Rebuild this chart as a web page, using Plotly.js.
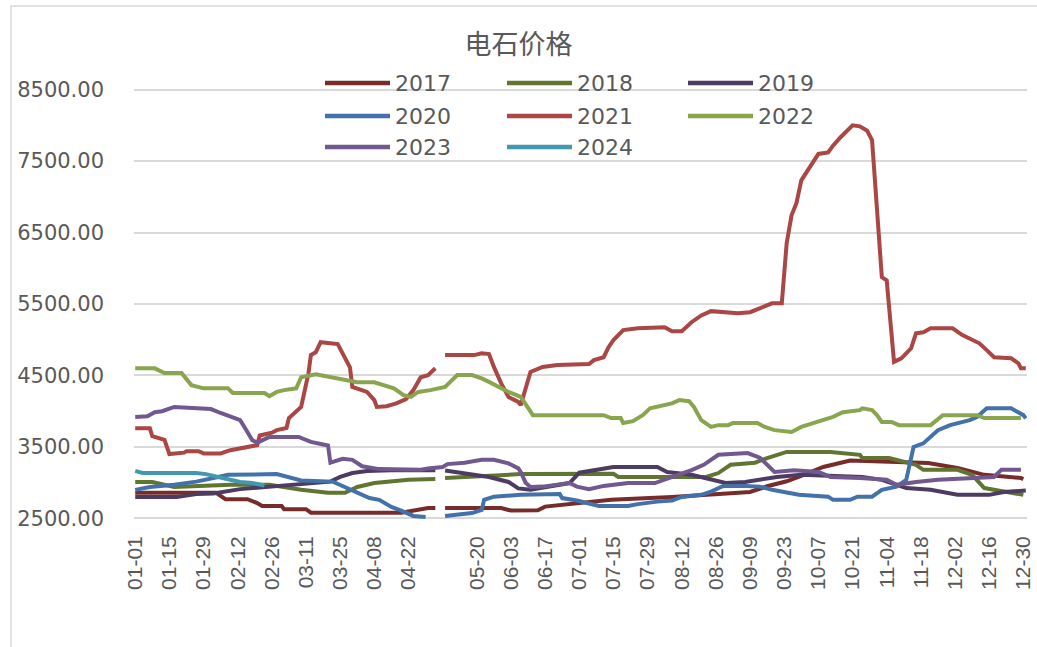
<!DOCTYPE html>
<html>
<head>
<meta charset="utf-8">
<script src="https://cdn.plot.ly/plotly-3.0.1.min.js"></script>
<style>
  body { margin: 0; background: #fff; }
  #chart { width: 1037px; height: 647px; }
</style>
</head>
<body>
<div id="chart"></div>
<script>
var years = ['2017', '2018', '2019', '2020', '2021', '2022', '2023', '2024'];
var colors = ['#772C2A', '#5F7530', '#4D3B62', '#4372AA', '#AA4643', '#89A54E', '#71588F', '#4198AF'];

// dates are MM-DD, values in yuan/ton; null = no quotes (May Day break)
var d2017 = ['01-01','02-03','02-07','02-16','02-20','02-22','03-01','03-02','03-11','03-13',
  '04-19','04-24','04-30','05-03','05-05','05-07','05-30','06-03','06-14','06-17',
  '06-27','07-14','08-08','08-24','09-09','09-16','09-24','10-01','10-09','10-20',
  '11-21','12-03','12-14','12-29','12-30'];
var v2017 = [2860,2860,2770,2770,2715,2675,2675,2630,2630,2580,
  2580,2610,2645,2645,null,2645,2645,2610,2615,2665,
  2700,2760,2800,2830,2870,2950,3020,3110,3220,3310,
  3275,3205,3110,3065,3050];

var d2018 = ['01-01','01-08','01-17','01-26','02-09','02-25','03-04','03-09','03-20','03-27',
  '04-01','04-08','04-22','05-03','05-05','05-07','05-18','05-30','06-07','07-15',
  '07-17','08-22','08-27','09-01','09-11','09-16','09-24','10-12','10-24','10-25',
  '11-05','11-16','11-19','12-03','12-09','12-14','12-26','12-30'];
var v2018 = [3010,3010,2940,2955,2970,2970,2930,2900,2860,2860,
  2940,2995,3040,3050,null,3065,3080,3110,3120,3125,
  3080,3080,3135,3250,3280,3345,3430,3430,3390,3345,
  3345,3250,3180,3180,3110,2925,2855,2830];

var d2019 = ['01-01','01-18','01-26','02-02','02-13','02-25','03-21','03-25','03-30','04-05',
  '04-15','05-03','05-05','05-07','05-18','05-25','06-02','06-06','06-11','06-27',
  '07-01','07-09','07-15','08-02','08-06','08-16','08-22','08-30','09-07','09-15',
  '09-20','09-30','10-25','11-02','11-12','11-22','12-03','12-16','12-22','12-31'];
var v2019 = [2800,2800,2840,2850,2910,2945,3015,3080,3135,3165,
  3175,3175,null,3170,3110,3080,3010,2920,2900,2995,
  3140,3180,3220,3220,3150,3110,3065,2995,3010,3050,
  3080,3110,3080,3040,2925,2900,2830,2830,2870,2890];

var d2020 = ['01-01','01-07','01-17','01-26','02-04','02-08','02-28','03-03','03-09','03-22',
  '03-28','04-06','04-10','04-15','04-19','04-24','04-29','05-03','05-07','05-18',
  '05-22','05-23','05-27','06-07','06-23','06-24','06-30','07-09','07-21','07-25',
  '08-02','08-08','08-12','08-20','08-24','08-29','09-07','09-13','09-18','09-29',
  '10-11','10-13','10-20','10-23','10-29','11-02','11-08','11-12','11-15','11-19',
  '11-25','11-30','12-08','12-11','12-15','12-25','12-30','12-31'];
var v2020 = [2900,2940,2970,3015,3080,3110,3120,3080,3030,3015,
  2925,2785,2760,2660,2610,2535,2520,null,2535,2575,
  2620,2760,2805,2830,2840,2785,2750,2675,2675,2700,
  2735,2750,2800,2830,2875,2955,2955,2945,2900,2830,
  2805,2760,2760,2805,2805,2900,2945,3040,3500,3550,
  3735,3805,3875,3920,4040,4040,3945,3900];

var d2021 = ['01-01','01-07','01-08','01-13','01-15','01-21','01-22','01-27','01-29','02-05',
  '02-09','02-20','02-21','02-26','02-28','03-03','03-04','03-06','03-09','03-12',
  '03-13','03-15','03-17','03-24','03-26','03-29','03-30','04-05','04-08','04-09',
  '04-13','04-17','04-21','04-24','04-27','04-30','05-03','05-05','05-07','05-19',
  '05-22','05-25','05-27','05-30','06-02','06-06','06-07','06-09','06-11','06-16',
  '06-22','07-05','07-07','07-11','07-13','07-15','07-19','07-25','08-05','08-08',
  '08-12','08-16','08-20','08-24','08-29','09-04','09-09','09-13','09-18','09-22',
  '09-23','09-24','09-26','09-28','09-30','10-07','10-11','10-13','10-16','10-19',
  '10-21','10-24','10-27','10-29','11-01','11-02','11-04','11-07','11-10','11-14',
  '11-16','11-19','11-22','12-01','12-05','12-08','12-12','12-15','12-18','12-25',
  '12-28','12-29','12-31'];
var v2021 = [3760,3760,3650,3600,3400,3420,3440,3440,3410,3410,
  3455,3525,3660,3700,3735,3765,3905,3975,4060,4530,
  4785,4825,4965,4940,4810,4615,4340,4270,4155,4060,
  4070,4110,4170,4295,4475,4505,4600,null,4785,4785,
  4810,4800,4620,4390,4200,4130,4085,4295,4550,4620,
  4645,4660,4715,4755,4895,4995,5135,5160,5175,5120,
  5120,5245,5340,5400,5385,5370,5385,5440,5510,5510,
  5970,6350,6740,6910,7230,7600,7620,7715,7830,7925,
  8000,7985,7925,7790,6435,5875,5830,4690,4740,4880,
  5090,5105,5160,5160,5065,5020,4950,4855,4755,4740,
  4670,4600,4600];

var d2022 = ['01-01','01-09','01-13','01-20','01-24','01-29','02-08','02-10','02-23','02-25',
  '02-28','03-02','03-07','03-09','03-15','03-21','03-26','04-01','04-08','04-12',
  '04-16','04-20','04-23','04-26','05-01','05-07','05-12','05-18','05-22','05-25',
  '05-29','06-02','06-07','06-12','07-11','07-14','07-18','07-19','07-23','07-27',
  '07-30','08-08','08-11','08-15','08-17','08-20','08-24','08-27','08-31','09-02',
  '09-12','09-15','09-19','09-26','09-30','10-09','10-13','10-17','10-24','10-25',
  '10-29','10-31','11-02','11-06','11-09','11-22','11-27','12-11','12-14','12-29'];
var v2022 = [4600,4600,4535,4535,4365,4320,4320,4255,4255,4210,
  4270,4295,4320,4475,4515,4475,4450,4405,4405,4365,
  4320,4225,4200,4270,4295,4340,4505,4505,4460,4410,
  4340,4270,4200,3945,3945,3905,3905,3835,3860,3945,
  4040,4110,4155,4140,4060,3875,3780,3805,3805,3835,
  3835,3780,3735,3710,3780,3875,3920,3985,4015,4040,
  4015,3945,3850,3850,3805,3805,3945,3945,3905,3905];

var d2023 = ['01-01','01-06','01-09','01-12','01-17','02-01','02-05','02-09','02-13','02-15',
  '02-18','02-20','02-25','03-08','03-13','03-20','03-21','03-26','03-30','04-03',
  '04-10','04-27','04-30','05-06','05-08','05-15','05-22','05-27','06-02','06-06',
  '06-07','06-09','06-11','06-16','06-27','06-30','07-05','07-11','07-21','08-01',
  '08-05','08-11','08-16','08-21','08-27','09-08','09-13','09-19','09-27','10-07',
  '10-12','10-24','11-04','11-08','11-16','11-25','12-18','12-21','12-29'];
var v2023 = [3920,3930,3985,4000,4060,4030,3975,3920,3875,3765,
  3595,3560,3640,3640,3570,3520,3280,3335,3320,3230,
  3190,3180,3200,3220,3260,3280,3320,3320,3270,3200,
  3150,3000,2940,2945,2995,2945,2910,2955,2995,2995,
  3040,3110,3175,3250,3390,3415,3350,3150,3175,3150,
  3080,3065,3040,2970,3010,3040,3080,3180,3180];

var d2024 = ['01-01','01-04','01-26','01-30','02-04','02-09','02-13','02-18','02-23'];
var v2024 = [3165,3135,3135,3120,3080,3040,3010,2995,2960];

var tickDays = ['01-01','01-15','01-29','02-12','02-26','03-11','03-25','04-08','04-22',
  '05-20','06-03','06-17','07-01','07-15','07-29','08-12','08-26','09-09','09-23',
  '10-07','10-21','11-04','11-18','12-02','12-16','12-30'];

var dates = [d2017, d2018, d2019, d2020, d2021, d2022, d2023, d2024];
var values = [v2017, v2018, v2019, v2020, v2021, v2022, v2023, v2024];

// all years share one leap-year calendar (03-11 tick => 29 Feb exists)
function toDate(md) { return '2024-' + md; }

var grey = '#595959';
var M = {l: 134, r: 10, t: 86, b: 125};
var W = 1037 - M.l - M.r, H = 647 - M.t - M.b;
function px(x) { return (x - M.l) / W; }
function py(y) { return (647 - M.b - y) / H; }

var traces = years.map(function (yr, i) {
  return {
    x: dates[i].map(toDate),
    y: values[i],
    name: yr,
    type: 'scatter',
    mode: 'lines',
    line: {color: colors[i], width: 4},
    showlegend: false,
    hovertemplate: '%{x|%m-%d}: %{y:.2f}<extra>' + yr + '</extra>'
  };
});

// legend drawn by hand: 3 columns, long line samples like the excel original
var legCols = [325, 507, 688];
var legRows = [83, 116, 147];
var shapes = [{
  type: 'rect', xref: 'paper', yref: 'paper', layer: 'below',
  x0: px(11), x1: px(1100), y0: py(700), y1: py(6),
  line: {color: '#d9d9d9', width: 1.5}
}];
var annotations = [];
years.forEach(function (yr, i) {
  var cx = legCols[i % 3], ry = legRows[Math.floor(i / 3)];
  shapes.push({
    type: 'line', xref: 'paper', yref: 'paper',
    x0: px(cx), x1: px(cx + 65), y0: py(ry), y1: py(ry),
    line: {color: colors[i], width: 4.5}
  });
  annotations.push({
    xref: 'paper', yref: 'paper', x: px(cx + 68), y: py(ry),
    xanchor: 'left', yanchor: 'middle', showarrow: false, text: yr,
    font: {family: 'DejaVu Sans', size: 22, color: grey}
  });
});

var layout = {
  width: 1037,
  height: 647,
  margin: M,
  paper_bgcolor: '#fff',
  plot_bgcolor: '#fff',
  title: {
    text: '电石价格',
    x: 0.5, xref: 'container', xanchor: 'center',
    y: 1 - 45 / 647, yref: 'container', yanchor: 'middle',
    font: {family: 'Noto Sans CJK SC, sans-serif', size: 27, color: grey}
  },
  xaxis: {
    type: 'date',
    range: ['2023-12-31 12:00', '2024-12-31 12:00'],
    tickmode: 'array',
    tickvals: tickDays.map(toDate),
    ticktext: tickDays,
    tickangle: -90,
    ticks: '',
    ticklabelstandoff: 9,
    showgrid: false,
    zeroline: false,
    showline: false,
    tickfont: {family: 'Liberation Sans', size: 21, color: grey}
  },
  yaxis: {
    range: [2450, 8550],
    tickmode: 'linear',
    tick0: 2500,
    dtick: 1000,
    tickformat: '.2f',
    ticks: '',
    ticklabelstandoff: 29,
    gridcolor: '#d9d9d9',
    gridwidth: 1.5,
    zeroline: false,
    showline: false,
    tickfont: {family: 'DejaVu Sans', size: 21, color: grey}
  },
  shapes: shapes,
  annotations: annotations,
  showlegend: false
};

Plotly.newPlot('chart', traces, layout, {displayModeBar: false});
</script>
</body>
</html>
